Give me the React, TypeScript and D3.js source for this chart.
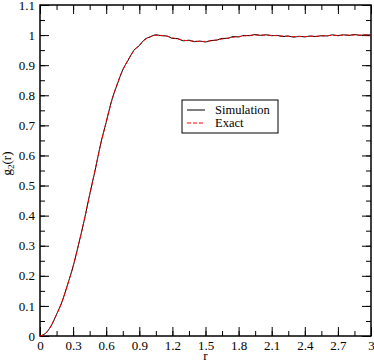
import React, { useEffect, useRef } from 'react'
import * as d3 from 'd3'

// r grid, read every 0.05 off the picture
const rValues = [
  0, 0.05, 0.1, 0.15, 0.2, 0.25, 0.3, 0.35, 0.4, 0.45, 0.5, 0.55, 0.6, 0.65, 0.7, 0.75, 0.8, 0.85, 0.9,
  0.95, 1.0, 1.05, 1.1, 1.15, 1.2, 1.25, 1.3, 1.35, 1.4, 1.45, 1.5, 1.55, 1.6, 1.65, 1.7, 1.75, 1.8,
  1.85, 1.9, 1.95, 2.0, 2.05, 2.1, 2.15, 2.2, 2.25, 2.3, 2.35, 2.4, 2.45, 2.5, 2.55, 2.6, 2.65, 2.7,
  2.75, 2.8, 2.85, 2.9, 2.95, 3.0,
]
const exactValues = [
  0, 0.008, 0.034, 0.071, 0.115, 0.17, 0.232, 0.304, 0.384, 0.468, 0.553, 0.637, 0.712, 0.781, 0.838,
  0.883, 0.919, 0.947, 0.967, 0.984, 0.995, 0.999, 0.999, 0.996, 0.991, 0.987, 0.983, 0.981, 0.98,
  0.979, 0.979, 0.981, 0.984, 0.987, 0.99, 0.993, 0.995, 0.997, 0.999, 1.0, 1.0, 1.0, 0.999, 0.998,
  0.997, 0.996, 0.995, 0.995, 0.995, 0.996, 0.996, 0.997, 0.998, 0.999, 0.999, 1.0, 1.0, 1.0, 1.0,
  1.0, 1.0,
]
const simulationValues = [
  0, 0.009, 0.033, 0.072, 0.114, 0.171, 0.231, 0.305, 0.383, 0.47, 0.551, 0.639, 0.71, 0.783, 0.836,
  0.885, 0.917, 0.949, 0.965, 0.986, 0.994, 1.001, 0.998, 0.997, 0.989, 0.988, 0.981, 0.983, 0.978,
  0.98, 0.977, 0.982, 0.983, 0.989, 0.989, 0.995, 0.994, 0.999, 0.998, 1.002, 0.999, 1.001, 0.998,
  0.999, 0.995, 0.997, 0.993, 0.996, 0.994, 0.997, 0.995, 0.998, 0.997, 1.001, 0.998, 1.001, 0.999,
  1.002, 0.999, 1.001, 1.0,
]
const xTicks = [0, 0.3, 0.6, 0.9, 1.2, 1.5, 1.8, 2.1, 2.4, 2.7, 3]
const yTicks = [0, 0.1, 0.2, 0.3, 0.4, 0.5, 0.6, 0.7, 0.8, 0.9, 1, 1.1]
const legendLabels = ['Simulation', 'Exact']

const FONT = "'Liberation Serif', 'Times New Roman', serif"

const App = () => {
  const svgRef = useRef<SVGSVGElement>(null)

  useEffect(() => {
    const width = 374
    const height = 362
    const margin = { top: 5, right: 3, bottom: 26, left: 40 }
    const innerW = width - margin.left - margin.right
    const innerH = height - margin.top - margin.bottom

    const svg = d3.select(svgRef.current)
    svg.selectAll('*').remove()
    svg.attr('width', width).attr('height', height)

    const g = svg.append('g').attr('transform', `translate(${margin.left},${margin.top})`)

    const x = d3.scaleLinear().domain([0, 3]).range([0, innerW])
    const y = d3.scaleLinear().domain([0, 1.1]).range([innerH, 0])

    const xMinor = d3.range(0, 3.001, 0.15)
    const yMinor = d3.range(0, 1.101, 0.05)
    const fmt = (d: d3.NumberValue) => d3.format('~g')(+d)

    // ticks point inward on all four sides
    const sides = [
      { make: () => d3.axisBottom(x), t: `translate(0,${innerH})`, ticks: xTicks, minor: xMinor, labels: true },
      { make: () => d3.axisTop(x), t: 'translate(0,0)', ticks: xTicks, minor: xMinor, labels: false },
      { make: () => d3.axisLeft(y), t: 'translate(0,0)', ticks: yTicks, minor: yMinor, labels: true },
      { make: () => d3.axisRight(y), t: `translate(${innerW},0)`, ticks: yTicks, minor: yMinor, labels: false },
    ]
    sides.forEach((s) => {
      const mg = g.append('g').attr('transform', s.t)
      mg.call(s.make().tickValues(s.minor).tickSize(-5).tickFormat(() => ''))
      mg.select('.domain').remove()
      mg.selectAll('line').attr('stroke', '#000').attr('stroke-width', 1)

      const ag = g.append('g').attr('transform', s.t)
      ag.call(
        s
          .make()
          .tickValues(s.ticks)
          .tickSize(-9)
          .tickPadding(s.labels ? 5 : 0)
          .tickFormat(s.labels ? fmt : () => '')
      )
      ag.attr('font-family', FONT).attr('font-size', 13)
      ag.select('.domain').remove()
      ag.selectAll('line').attr('stroke', '#000').attr('stroke-width', 1)
      ag.selectAll('text').attr('fill', '#000')
    })

    g.append('rect')
      .attr('width', innerW)
      .attr('height', innerH)
      .attr('fill', 'none')
      .attr('stroke', '#000')
      .attr('stroke-width', 1.5)

    const line = d3
      .line<number>()
      .x((d, i) => x(rValues[i]))
      .y((d) => y(d))
      .curve(d3.curveMonotoneX)

    g.append('path')
      .attr('d', line(simulationValues))
      .attr('fill', 'none')
      .attr('stroke', '#000')
      .attr('stroke-width', 1)
    g.append('path')
      .attr('d', line(exactValues))
      .attr('fill', 'none')
      .attr('stroke', '#ff0000')
      .attr('stroke-width', 1)
      .attr('stroke-dasharray', '4,2')

    // axis titles
    svg
      .append('text')
      .attr('x', margin.left + innerW / 2)
      .attr('y', 360)
      .attr('text-anchor', 'middle')
      .attr('font-family', FONT)
      .attr('font-size', 13)
      .text('r')
    const yl = svg
      .append('text')
      .attr('transform', `translate(11,${margin.top + innerH / 2 - 7}) rotate(-90)`)
      .attr('text-anchor', 'middle')
      .attr('font-family', FONT)
      .attr('font-size', 13)
    yl.append('tspan').text('g')
    yl.append('tspan').attr('font-size', 9).attr('dy', 3).text('2')
    yl.append('tspan').attr('dy', -3).text('(r)')

    // legend
    const lg = svg.append('g').attr('transform', 'translate(182,100)')
    lg.append('rect')
      .attr('width', 96)
      .attr('height', 33)
      .attr('fill', '#fff')
      .attr('stroke', '#000')
      .attr('stroke-width', 1)
    legendLabels.forEach((label, i) => {
      const yy = 10 + i * 13
      lg.append('line')
        .attr('x1', 5)
        .attr('x2', 23)
        .attr('y1', yy)
        .attr('y2', yy)
        .attr('stroke', i === 0 ? '#000' : '#ff0000')
        .attr('stroke-dasharray', i === 0 ? null : '4,2')
      lg.append('text')
        .attr('x', 33)
        .attr('y', yy + 4)
        .attr('font-family', FONT)
        .attr('font-size', 12.5)
        .text(label)
    })
  }, [])

  return (
    <div>
      <svg ref={svgRef} style={{ position: 'absolute', left: 0, top: 0 }}></svg>
    </div>
  )
}

export default App
